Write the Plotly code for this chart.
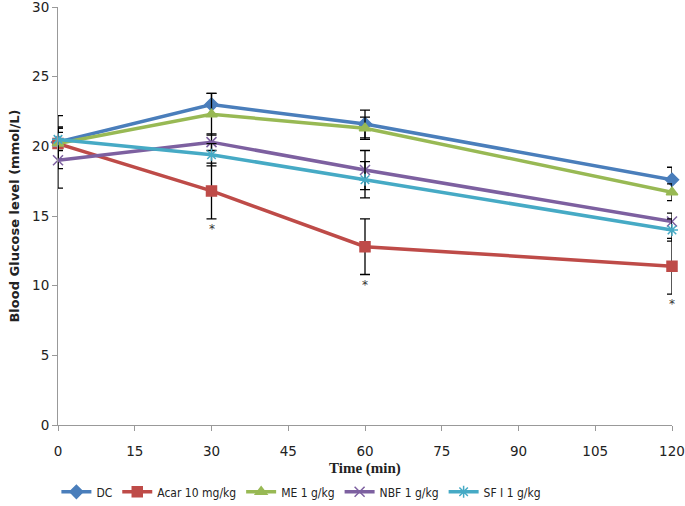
import plotly.graph_objects as go

times = [0, 30, 60, 120]
series_names = ["DC", "Acar 10 mg/kg", "ME 1 g/kg", "NBF 1 g/kg", "SF I 1 g/kg"]
dc = [20.3, 23.0, 21.6, 17.6]
acar = [20.2, 16.8, 12.8, 11.4]
me = [20.2, 22.3, 21.3, 16.7]
nbf = [19.0, 20.3, 18.3, 14.6]
sf = [20.5, 19.4, 17.6, 14.0]
dc_err = [1.9, 0.8, 1.0, 0.9]
acar_err = [1.1, 2.0, 2.0, 2.0]
me_err = [1.2, 1.5, 0.8, 0.6]
nbf_err = [2.0, 0.6, 1.4, 0.6]
sf_err = [0.8, 0.8, 1.3, 0.8]
sig_times = [30, 60, 120]

colors = ["#4a7ebb", "#be4b48", "#98b954", "#7d60a0", "#46aac5"]
symbols = ["diamond", "square", "triangle-up", "x-thin-open", "asterisk-open"]
values = [dc, acar, me, nbf, sf]
errors = [dc_err, acar_err, me_err, nbf_err, sf_err]

fig = go.Figure()
for name, v, e, c, s in zip(series_names, values, errors, colors, symbols):
    fig.add_trace(go.Scatter(
        x=times, y=v, name=name, mode="lines+markers",
        line=dict(color=c, width=3.5),
        marker=dict(symbol=s, size=10, color=c, line=dict(color=c, width=1.5)),
        error_y=dict(type="data", array=e, visible=True, color="black", thickness=1.3, width=5),
        cliponaxis=False,
    ))

for t in sig_times:
    i = times.index(t)
    fig.add_annotation(x=t, y=acar[i] - acar_err[i], text="*", showarrow=False,
                       yanchor="top", yshift=-1, font=dict(size=12, color="#333", family="DejaVu Sans"))

fig.add_annotation(x=0.5, xref="paper", y=-0.105, yref="paper", text="<b>Time (min)</b>",
                   showarrow=False, yanchor="middle",
                   font=dict(family="Liberation Serif", size=15, color="#222"))

fig.update_layout(
    width=685, height=506,
    margin=dict(l=58, r=13, t=7, b=81, autoexpand=False),
    plot_bgcolor="white", paper_bgcolor="white",
    showlegend=True,
    legend=dict(orientation="h", x=0.44, xanchor="center", xref="container",
                y=0.028, yanchor="middle", yref="container",
                font=dict(family="DejaVu Sans Condensed", size=12, color="#222"),
                itemwidth=30, tracegroupgap=0),
    xaxis=dict(range=[0, 120], tickvals=list(range(0, 121, 15)), showgrid=False, automargin=False,
               showline=True, linecolor="#999", linewidth=1, ticks="outside", ticklen=5,
               tickcolor="#999", zeroline=False, ticklabeloverflow="allow", ticklabelstandoff=9,
               tickfont=dict(family="DejaVu Sans", size=13.5, color="#222")),
    yaxis=dict(range=[0, 30], tickvals=list(range(0, 31, 5)), showgrid=False, automargin=False,
               showline=True, linecolor="#999", linewidth=1, ticks="outside", ticklen=5,
               tickcolor="#999", zeroline=False, ticklabeloverflow="allow",
               tickfont=dict(family="DejaVu Sans", size=13.5, color="#222"),
               title=dict(text="<b>Blood Glucose level (mmol/L)</b>", font=dict(family="DejaVu Sans", size=13, color="#222"), standoff=9)),
)

fig.write_html("out.html", config={"displayModeBar": False},
               post_script="document.body.style.margin='0';")
